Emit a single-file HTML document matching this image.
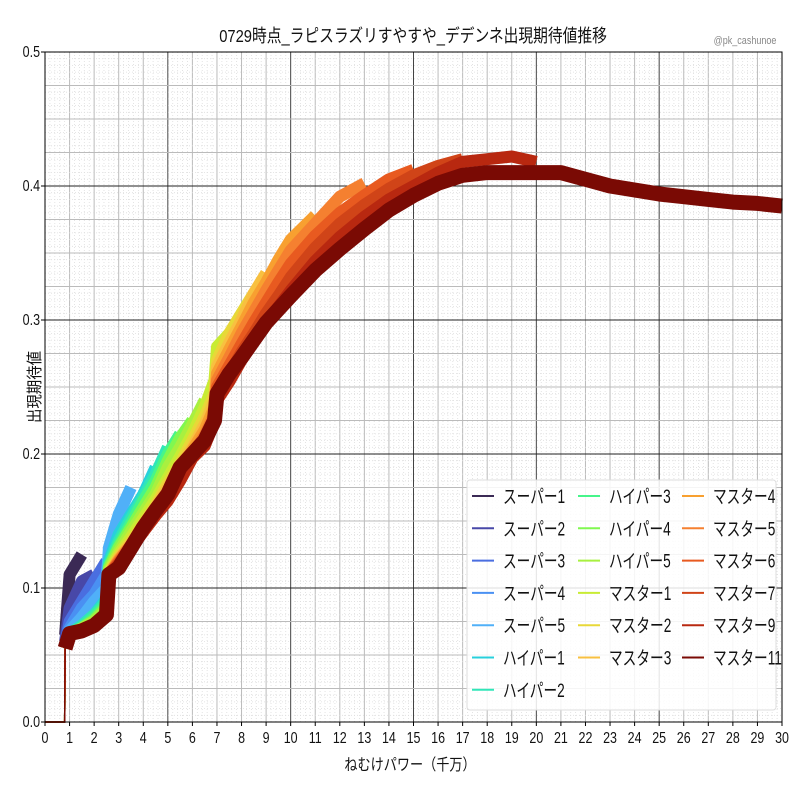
<!DOCTYPE html>
<html><head><meta charset="utf-8"><style>
body{margin:0;background:#fff}
svg text{font-family:"Liberation Sans","Noto Sans CJK JP",sans-serif}
</style></head><body>
<svg id="chart" width="800" height="800" xmlns="http://www.w3.org/2000/svg">
<rect width="800" height="800" fill="#fff"/>
<g id="grid"></g><g id="series"></g><g id="axes"></g><g id="legend"></g>
<text transform="translate(413,42) scale(0.82,1)" font-size="18" text-anchor="middle" fill="#111">0729時点_ラピスラズリすやすや_デデンネ出現期待値推移</text>
<text transform="translate(745,44) scale(0.82,1)" font-size="11" text-anchor="middle" fill="#888">@pk_cashunoe</text>
<text transform="translate(410,770) scale(0.82,1)" font-size="16" text-anchor="middle" fill="#111">ねむけパワー（千万）</text>
<text transform="translate(40,387) rotate(-90) scale(0.9,1)" font-size="16" text-anchor="middle" fill="#111">出現期待値</text>
</svg>
<script>
const xGrid=[0,0.8,0.82,1,1.5,2,2.5,2.6,3,3.5,4,4.5,5,5.5,6,6.5,6.9,7,7.5,8,8.5,9,9.5,10,11,12,13,14,15,16,17,18,19,20,21,22,23,24,25,26,27,28,29,30];
const seriesNames=["スーパー1","スーパー2","スーパー3","スーパー4","スーパー5","ハイパー1","ハイパー2","ハイパー3","ハイパー4","ハイパー5","マスター1","マスター2","マスター3","マスター4","マスター5","マスター6","マスター7","マスター9","マスター11"];
const seriesColors=["#3b2a55","#4848a8","#4a6ee0","#4a90f2","#50b0f8","#28d0dc","#30e6b8","#46f58a","#80f850","#a8f040","#c8ec34","#e8d838","#f8c040","#f8a030","#f58030","#e85a20","#d04418","#b82810","#7a0a04"];
const earlyHead=[0,0,0.055,0.066,0.068,0.072,0.08];
const super1=[0,0,0.065,0.11,0.125];
const super2=[0,0,0.06,0.085,0.105,0.11];
const super3=[0,0,0.058,0.075,0.09,0.105,0.12];
const super4=[0,0,0.056,0.07,0.085,0.095,0.11,0.125];
const super5=[0,0,0.055,0.068,0.078,0.09,0.1,0.13,0.155,0.175];
const hyper1=[0,0,0.055,0.066,0.072,0.08,0.092,0.12,0.14,0.155,0.17,0.19];
const hyper2=[0,0,0.055,0.066,0.072,0.08,0.09,0.118,0.135,0.152,0.168,0.185,0.205];
const hyper3=[0,0,0.055,0.066,0.07,0.078,0.088,0.116,0.132,0.148,0.165,0.18,0.2,0.215];
const hyper4=[0,0,0.055,0.066,0.07,0.076,0.086,0.115,0.13,0.145,0.16,0.175,0.195,0.212,0.225];
const hyper5=[0,0,0.055,0.066,0.07,0.075,0.084,0.113,0.127,0.142,0.156,0.17,0.19,0.205,0.222,0.24];
const master1Tail=[0.112,0.125,0.138,0.152,0.166,0.182,0.198,0.215,0.235,0.255,0.28,0.29];
const master2Tail=[0.111,0.123,0.135,0.148,0.162,0.178,0.193,0.21,0.228,0.245,0.27,0.29,0.305,0.32];
const master3Tail=[0.11,0.122,0.133,0.146,0.16,0.175,0.19,0.205,0.222,0.24,0.265,0.283,0.3,0.32,0.335];
const master4Tail=[0.11,0.121,0.132,0.145,0.158,0.172,0.188,0.203,0.218,0.235,0.26,0.278,0.295,0.313,0.328,0.345,0.36,0.378];
const master5Tail=[0.11,0.12,0.132,0.144,0.157,0.17,0.185,0.2,0.214,0.23,0.255,0.272,0.29,0.306,0.322,0.337,0.352,0.372,0.392,0.402];
const master6Tail=[0.11,0.119,0.131,0.143,0.156,0.168,0.184,0.2,0.21,0.228,0.25,0.266,0.282,0.298,0.313,0.328,0.342,0.363,0.38,0.393,0.405,0.412];
const master7Tail=[0.11,0.118,0.13,0.142,0.155,0.166,0.182,0.198,0.208,0.226,0.245,0.26,0.276,0.29,0.305,0.318,0.332,0.354,0.372,0.386,0.398,0.408,0.415,0.42];
const master9Tail=[0.11,0.117,0.13,0.142,0.154,0.165,0.18,0.197,0.206,0.224,0.24,0.254,0.27,0.284,0.297,0.31,0.322,0.344,0.362,0.377,0.39,0.4,0.41,0.418,0.42,0.422,0.418];
const master11Tail=[0.11,0.115,0.13,0.145,0.158,0.17,0.19,0.2,0.21,0.225,0.245,0.26,0.272,0.285,0.298,0.308,0.318,0.337,0.353,0.368,0.382,0.393,0.402,0.408,0.41,0.41,0.41,0.41,0.405,0.4,0.397,0.394,0.392,0.39,0.388,0.387,0.385];
const xTicks=[0,1,2,3,4,5,6,7,8,9,10,11,12,13,14,15,16,17,18,19,20,21,22,23,24,25,26,27,28,29,30];
const yTicks=[0,0.1,0.2,0.3,0.4,0.5];
const yTickLabels=["0.0","0.1","0.2","0.3","0.4","0.5"];

const seriesValues=[super1,super2,super3,super4,super5,hyper1,hyper2,hyper3,hyper4,hyper5,
 earlyHead.concat(master1Tail),earlyHead.concat(master2Tail),earlyHead.concat(master3Tail),earlyHead.concat(master4Tail),
 earlyHead.concat(master5Tail),earlyHead.concat(master6Tail),earlyHead.concat(master7Tail),earlyHead.concat(master9Tail),earlyHead.concat(master11Tail)];

const L=45,R=782,T=52,B=722;
const xs=v=>L+(v/30)*(R-L);
const ys=v=>B-(v/0.5)*(B-T);
const NS="http://www.w3.org/2000/svg";
function mk(tag,attrs,parent){const e=document.createElementNS(NS,tag);for(const k in attrs)e.setAttribute(k,attrs[k]);parent.appendChild(e);return e;}
const grid=document.getElementById('grid');
for(let i=0;i<=150;i++){const v=i*0.2;const x=xs(v);
 let st=i%25===0?{s:"#444",w:1}:(i%5===0?{s:"#bbb",w:1}:{s:"#ddd",w:0.8,d:"1,2"});
 const ln=mk('line',{x1:x,x2:x,y1:T,y2:B,stroke:st.s,'stroke-width':st.w},grid);if(st.d)ln.setAttribute('stroke-dasharray',st.d);
 
 }
for(let i=0;i<=100;i++){const v=i*0.005;const y=ys(v);
 let st=i%20===0?{s:"#222",w:1}:(i%5===0?{s:"#bbb",w:1}:{s:"#ddd",w:0.8,d:"1,2"});
 const ln=mk('line',{x1:L,x2:R,y1:y,y2:y,stroke:st.s,'stroke-width':st.w},grid);if(st.d)ln.setAttribute('stroke-dasharray',st.d);
 
 }
const sg=document.getElementById('series');
seriesValues.forEach((vals,si)=>{
 const pts=vals.map((v,i)=>xs(xGrid[i]).toFixed(1)+","+ys(v).toFixed(1));
 const zero=mk('polyline',{points:pts.slice(0,3).join(" "),fill:"none",stroke:seriesColors[si],'stroke-width':1.5},sg);
 
 
 const p=mk('polyline',{points:pts.slice(2).join(" "),fill:"none",stroke:seriesColors[si],'stroke-width':si===18?15:12,'stroke-linejoin':'round','stroke-linecap':'butt'},sg);
 
 
});
const ax=document.getElementById('axes');
const fr=mk('rect',{x:L,y:T,width:R-L,height:B-T,fill:"none",stroke:"#000",'stroke-width':1},ax);


xTicks.forEach(v=>{const x=xs(v);mk('line',{x1:x,x2:x,y1:B,y2:B+4,stroke:"#000"},ax);
 const t=mk('text',{transform:`translate(${x},${B+21}) scale(0.78,1)`,'font-size':16,'text-anchor':'middle',fill:'#111'},ax);t.textContent=v;
 
 });
yTicks.forEach((v,i)=>{const y=ys(v);mk('line',{x1:L-4,x2:L,y1:y,y2:y,stroke:"#000"},ax);
 const t=mk('text',{transform:`translate(${L-5},${y+5}) scale(0.78,1)`,'font-size':16,'text-anchor':'end',fill:'#111'},ax);t.textContent=yTickLabels[i];
 
 });
const lg=document.getElementById('legend');
const box=mk('rect',{x:467,y:480,width:309,height:230,rx:3,fill:"#fff",'fill-opacity':0.85,stroke:"#ddd"},lg);


seriesNames.forEach((n,i)=>{const col=i<7?0:(i<13?1:2);const row=i<7?i:(i<13?i-7:i-13);
 const lx=[472,578,682][col],y=496+row*32.3;
 const g=mk('g',{},lg);
 
 
 mk('line',{x1:lx,x2:lx+22,y1:y,y2:y,stroke:seriesColors[i],'stroke-width':2},g);
 const t=mk('text',{transform:`translate(${lx+31},${y+7}) scale(0.72,1)`,'font-size':19,fill:'#111'},g);t.textContent=n;
});
</script>
</body></html>
